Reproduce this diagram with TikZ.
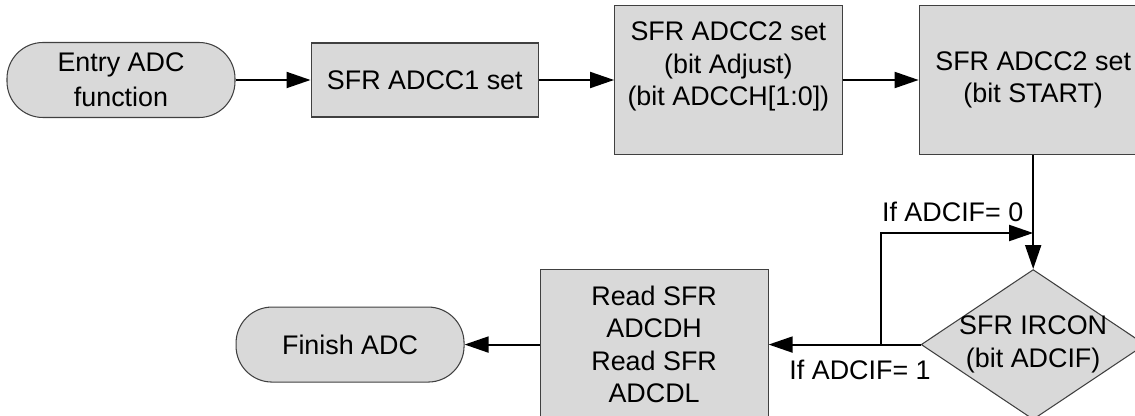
\documentclass[tikz,border=0pt]{standalone}
\usepackage{fontspec}
\setmainfont{Liberation Sans}
\usetikzlibrary{positioning,shapes.geometric,arrows.meta,calc}
\definecolor{boxfill}{HTML}{D9D9D9}
\definecolor{boxline}{HTML}{404040}
\begin{document}
\begin{tikzpicture}[font=\fontsize{15.3}{18.5}\selectfont]

		\tikzstyle{terminal}=[rectangle,rounded corners=0.72cm,
			fill=boxfill,draw=boxline,line width=0.6pt,
			minimum height=1.5cm,minimum width=4.56cm,inner sep=1mm,
			align=center]
		\tikzstyle{process}=[rectangle,
			fill=boxfill,draw=boxline,line width=0.6pt,
			minimum width=4.55cm,inner sep=1mm,
			align=center]
		\tikzstyle{decision}=[diamond,aspect=1.5,
			fill=boxfill,draw=boxline,line width=0.6pt,
			minimum height=3cm,minimum width=4.48cm,inner sep=-3pt,
			align=center]
		\tikzstyle{flow}=[-{Triangle[length=0.48cm,width=0.32cm]},line width=1.1pt]

		\useasboundingbox (0,0) rectangle (22.7,-8.32);

		\node[terminal]	(entry)	at (2.42,-1.6)	{Entry ADC\\[1.5pt]function};
		\node[process,right=1.5cm of entry,minimum height=1.48cm]	(adcc1)	{SFR ADCC1 set};
		\node[process,right=1.5cm of adcc1,minimum height=2.98cm]	(adjust)	{SFR ADCC2 set\\(bit Adjust)\\(bit ADCCH[1:0])\\\mbox{}};
		\node[process,right=1.52cm of adjust,minimum height=2.98cm,minimum width=4.56cm]	(start)	{SFR ADCC2 set\\(bit START)};
		\node[decision,below=2.28cm of start]	(check)	{SFR IRCON\\(bit ADCIF)};
		\node[process,left=3.04cm of check,minimum height=3cm,minimum width=4.56cm]	(read)	{Read SFR\\ADCDH\\Read SFR\\ADCDL};
		\node[terminal,left=1.5cm of read]	(finish)	{Finish ADC};

		\coordinate (loopstart) at ($(read.east)!0.74!(check.west)$);
		\coordinate (loopend) at ($(start.south)!0.684!(check.north)$);

		\draw[flow] (entry) -- (adcc1);
		\draw[flow] (adcc1) -- (adcc1 -| adjust.west);
		\draw[flow] (adjust) -- (start);
		\draw[flow] (start) -- (check);
		\draw[flow] (check) -- node[at start,anchor=north east,inner sep=0pt,xshift=0.22cm,yshift=-0.3cm]{If ADCIF= 1} (read);
		\draw[flow] (loopstart) |- node[pos=0.5,anchor=south west,inner sep=0pt,yshift=0.2cm]{If ADCIF= 0} (loopend);
		\draw[flow] (read) -- (finish);

	\end{tikzpicture}
\end{document}
